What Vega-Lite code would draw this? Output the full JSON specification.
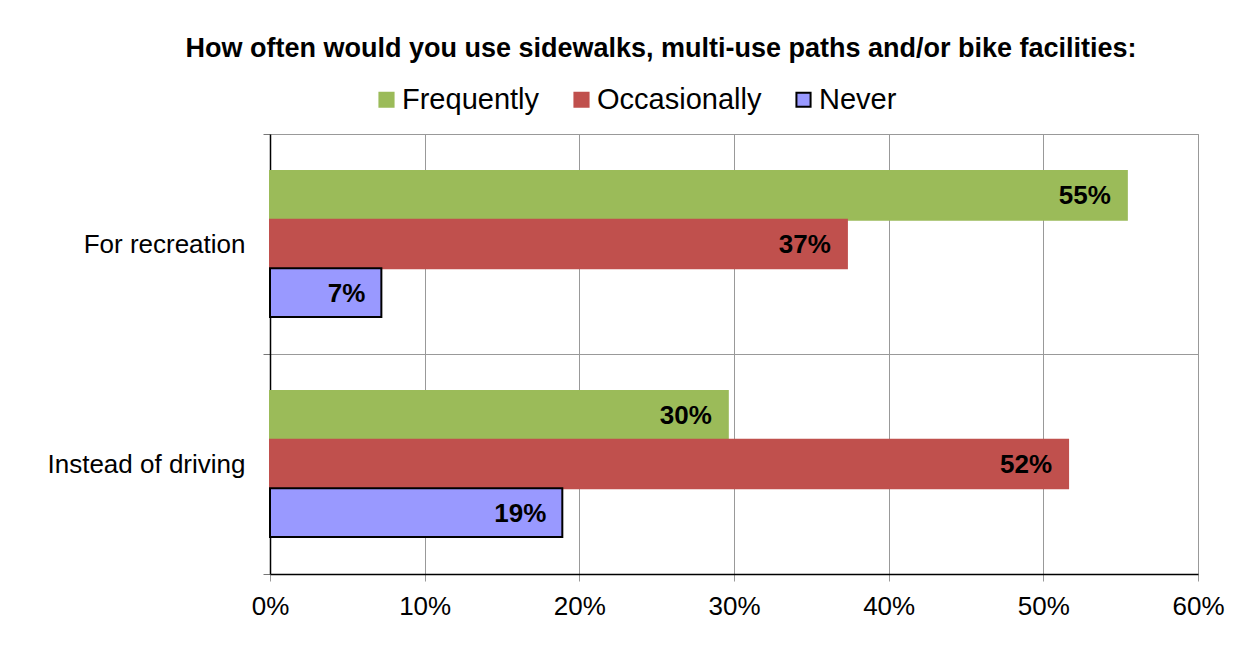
{
  "$schema": "https://vega.github.io/schema/vega-lite/v6.json",
  "autosize": "none",
  "width": 928,
  "height": 440,
  "padding": {"left": 270, "top": 134, "right": 54, "bottom": 87},
  "background": "white",
  "config": {
    "font": "Liberation Sans",
    "view": {"stroke": "#999999", "strokeWidth": 1}
  },
  "title": {
    "text": "How often would you use sidewalks, multi-use paths and/or bike facilities:",
    "fontSize": 27,
    "fontWeight": "bold",
    "font": "Liberation Sans",
    "color": "black",
    "anchor": "middle",
    "dx": -73,
    "offset": 22
  },
  "data": {
    "values": [
      {"use": "For recreation", "freq": "Frequently", "value": 0.554},
      {"use": "For recreation", "freq": "Occasionally", "value": 0.373},
      {"use": "For recreation", "freq": "Never", "value": 0.072},
      {"use": "Instead of driving", "freq": "Frequently", "value": 0.296},
      {"use": "Instead of driving", "freq": "Occasionally", "value": 0.516},
      {"use": "Instead of driving", "freq": "Never", "value": 0.189}
    ]
  },
  "encoding": {
    "y": {
      "field": "use",
      "type": "nominal",
      "sort": ["For recreation", "Instead of driving"],
      "scale": {"paddingInner": 0, "paddingOuter": 0},
      "axis": {
        "title": null,
        "tickBand": "extent",
        "grid": true,
        "gridColor": "#999999",
        "gridOpacity": 1,
        "domainColor": "black",
        "domainWidth": 1.5,
        "tickColor": "#777777",
        "tickSize": 7,
        "labelFontSize": 26,
        "labelColor": "black",
        "labelPadding": 18,
        "labelLimit": 400,
        "labelFont": "Liberation Sans"
      }
    },
    "yOffset": {
      "field": "freq",
      "type": "nominal",
      "sort": ["Frequently", "Occasionally", "Never"],
      "scale": {"paddingInner": 0, "paddingOuter": 0.76}
    },
    "x": {
      "field": "value",
      "type": "quantitative",
      "scale": {"domain": [0, 0.6], "nice": false},
      "axis": {
        "title": null,
        "format": ".0%",
        "values": [0, 0.1, 0.2, 0.3, 0.4, 0.5, 0.6],
        "grid": true,
        "gridColor": "#999999",
        "gridOpacity": 1,
        "domainColor": "black",
        "domainWidth": 1.5,
        "tickColor": "#999999",
        "tickSize": 7,
        "labelFontSize": 26,
        "labelColor": "black",
        "labelPadding": 12,
        "labelFont": "Liberation Sans",
        "labelFlush": false
      }
    }
  },
  "layer": [
    {
      "mark": {"type": "bar", "strokeWidth": 2},
      "encoding": {
        "fill": {
          "field": "freq",
          "type": "nominal",
          "sort": ["Frequently", "Occasionally", "Never"],
          "scale": {"domain": ["Frequently", "Occasionally", "Never"], "range": ["#9BBB59", "#C0504D", "#9999FF"]},
          "legend": {
            "title": null,
            "orient": "none",
            "direction": "horizontal",
            "legendX": 102,
            "legendY": -49,
            "symbolType": "square",
            "symbolSize": 200,
            "symbolStrokeWidth": 2,
            "labelFontSize": 29,
            "labelColor": "black",
            "labelFont": "Liberation Sans",
            "labelLimit": 400,
            "labelOffset": 1,
            "columnPadding": 27
          }
        },
        "stroke": {
          "field": "freq",
          "type": "nominal",
          "sort": ["Frequently", "Occasionally", "Never"],
          "scale": {"domain": ["Frequently", "Occasionally", "Never"], "range": ["#9BBB59", "#C0504D", "#000000"]},
          "legend": {
            "title": null,
            "orient": "none",
            "direction": "horizontal",
            "legendX": 102,
            "legendY": -49,
            "symbolType": "square",
            "symbolSize": 200,
            "symbolStrokeWidth": 2,
            "labelFontSize": 29,
            "labelColor": "black",
            "labelFont": "Liberation Sans",
            "labelLimit": 400,
            "labelOffset": 1,
            "columnPadding": 27
          }
        }
      }
    },
    {
      "mark": {"type": "text", "align": "right", "baseline": "middle", "dx": -16, "dy": 1, "fontSize": 26, "fontWeight": "bold", "color": "black", "font": "Liberation Sans"},
      "encoding": {
        "text": {"field": "value", "type": "quantitative", "format": ".0%"}
      }
    }
  ]
}
